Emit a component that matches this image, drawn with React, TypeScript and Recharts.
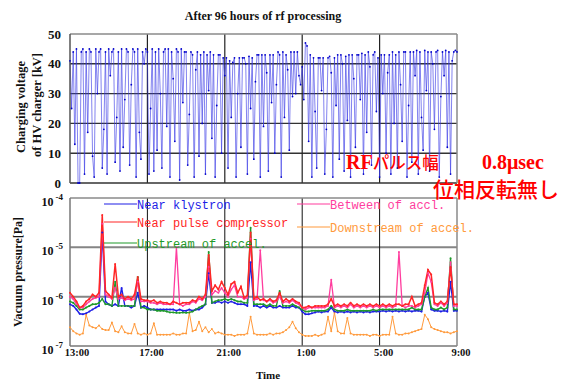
import { Line, LineChart, ReferenceLine, XAxis, YAxis } from 'recharts';

// hours after 13:00
const timeTicks = [0, 4, 8, 12, 16, 20];
const timeLabels = ['13:00', '17:00', '21:00', '1:00', '5:00', '9:00'];
const voltageTicks = [0, 10, 20, 30, 40, 50];
const pressureTicks = [1e-7, 1e-6, 1e-5, 1e-4];

// charging voltage [kV], one value every 5 minutes, one row per hour
const voltageRows = [
  [41, 25, 44, 13, 45, 0, 0, 44, 45, 3, 44, 17],
  [45, 44, 9, 2, 45, 30, 44, 45, 5, 18, 44, 3],
  [45, 36, 44, 45, 7, 22, 44, 4, 45, 12, 28, 45],
  [44, 6, 33, 45, 44, 2, 45, 17, 8, 44, 40, 45],
  [44, 3, 25, 45, 4, 44, 11, 45, 30, 5, 44, 45],
  [19, 45, 2, 44, 35, 14, 45, 44, 1, 45, 27, 44],
  [44, 6, 23, 44, 43, 2, 38, 44, 9, 43, 20, 44],
  [3, 43, 31, 44, 15, 43, 2, 26, 43, 43, 10, 42],
  [36, 42, 5, 41, 22, 40.5, 42, 2, 30, 42, 12, 42],
  [42, 40, 3, 42.5, 25, 42, 8, 34, 43, 43, 2, 43],
  [19, 43, 37, 4, 43, 27, 43, 10, 33, 44, 43, 2],
  [44, 22, 43, 38, 11, 44, 29, 44, 30, 44, 36, 33],
  [39, 28, 47, 46, 14, 43, 2, 42, 24, 5, 42, 42],
  [31, 42, 3, 18, 42, 42.5, 37, 2, 42, 26, 43, 8],
  [43, 40, 4, 42.5, 21, 43, 2, 43, 35, 12, 43, 43],
  [28, 43.5, 3, 43, 17, 44, 39, 6, 43, 44, 24, 42],
  [2, 43, 30, 43, 10, 37, 43, 3, 44, 20, 43, 5],
  [44, 33, 14, 44, 44, 2, 26, 44, 7, 44, 36, 44.5],
  [3, 44, 22, 11, 44.5, 31, 44, 4, 44, 40, 18, 44],
  [44.5, 2, 29, 44, 36, 44.5, 12, 44, 3, 41, 44, 44.5],
  [44],
];

// vacuum pressure in units of 1e-7 Pa, one value every 10 minutes, one row per hour
const klystronRows = [
  [7, 6.5, 5.5, 4.5, 4.4, 4.6], [5, 5.5, 6, 6.5, 200, 8], [7, 6.5, 7, 6.5, 15, 6.5],
  [6.5, 6, 6.5, 12, 6, 6.5], [6, 5.5, 5.5, 5.5, 5.5, 5.5], [5.5, 5.5, 5.5, 5.2, 5.5, 5.2],
  [5.2, 5.5, 5.2, 5.5, 5.5, 6], [7, 30, 7.5, 7.5, 8, 7.5], [8, 7.5, 8, 7.5, 7, 7],
  [7, 6.5, 50, 6.5, 6.5, 6], [6.5, 6, 6.5, 6, 6, 6.5], [6, 6, 6, 6.5, 6, 6],
  [5, 4.4, 4.4, 4.6, 4.8, 5], [4.8, 5, 5, 6, 5, 4.8], [5, 4.8, 5, 4.8, 5, 4.8],
  [5, 4.8, 5, 4.8, 5, 5], [5, 5.2, 5, 5.2, 5, 5.2], [5, 5.2, 5, 5.2, 5, 5.2],
  [5.2, 5, 10, 12, 5.5, 5.2], [5.2, 5, 5.2, 5, 20, 5.2], [5.2],
];
const compressorRows = [
  [12, 10, 8, 6, 6.5, 8], [9, 11, 10, 12, 450, 13], [11, 9.5, 46, 10, 11, 9],
  [10, 9, 11, 25, 9, 8.5], [8.5, 8, 8.5, 7.5, 8, 7.5], [7.5, 7, 8, 7.5, 7, 7.5],
  [7.5, 7.5, 8.5, 8, 10, 9], [11, 70, 13, 17, 14, 20], [15, 11, 18, 20, 12, 16],
  [9.5, 10.5, 200, 9, 10, 8.5], [9, 8, 9, 8, 8.5, 12], [8, 9, 8, 9, 8, 7.5],
  [6, 6, 6.5, 6, 6.5, 6.5], [6.5, 6.5, 7, 9, 6.5, 7], [6.5, 7, 6.5, 7.5, 6.5, 7],
  [6.5, 7, 6.5, 7, 6.5, 7], [6.5, 7, 6.5, 7, 6.5, 7], [7, 6.5, 7, 7, 10, 6.5],
  [7, 7.5, 17, 35, 28, 7.5], [7, 8, 7, 8, 40, 7], [7],
];
const upstreamRows = [
  [8, 7.5, 6.5, 5.5, 5.5, 6], [6.5, 7, 7, 7.5, 9, 7], [7, 6.5, 20, 6.5, 6.5, 6.5],
  [6.5, 6.5, 6.5, 25, 6, 6], [5.5, 5.5, 5.5, 5.2, 5.2, 5.2], [5, 4.8, 4.8, 4.7, 4.7, 4.8],
  [4.7, 4.8, 5, 5.5, 6, 6.5], [7, 80, 7.5, 8, 8.5, 8.5], [9, 8.5, 9, 8.5, 8, 8],
  [7.5, 7.5, 250, 7, 7, 7], [7, 6.5, 7, 6.5, 6.5, 13], [6.5, 6.5, 6.5, 7, 6.5, 6],
  [5.5, 5, 5, 5.2, 5.2, 5.2], [5.2, 5.2, 5.5, 6.5, 5.5, 5.2], [5.2, 5.2, 5.5, 5.2, 5.2, 5.2],
  [5.2, 5.2, 5.2, 5.2, 5.5, 5.2], [5.5, 5.5, 5.5, 5.5, 5.5, 5.5], [5.5, 5.5, 5.5, 5.5, 6, 5.5],
  [5.5, 5.5, 10, 15, 6, 5.5], [5.5, 6, 5.5, 6, 60, 5.5], [5.5],
];
const betweenRows = [
  [10, 9, 7, 6, 6, 7], [8, 9, 9.5, 10, 300, 11], [10, 9, 15, 9, 9.5, 8.5],
  [9, 8.5, 9, 20, 8, 8], [8, 7.5, 7.5, 7, 7.5, 7], [7, 7, 7, 100, 7, 6.5],
  [7, 7, 8, 7.5, 9, 8.5], [10, 40, 11, 13, 12, 15], [12, 10, 14, 17, 10, 10],
  [9, 9.5, 150, 8.5, 9, 87], [8.5, 8, 8.5, 7.5, 8, 10], [7.5, 8, 7.5, 8.5, 7.5, 7],
  [6, 5.5, 6, 6, 6, 6], [6, 6, 6.5, 22, 6, 6.5], [6, 6.5, 6, 7, 6, 6.5],
  [6, 6.5, 6, 6.5, 6, 6.5], [6, 6.5, 6, 6.5, 6, 6.5], [80, 6.5, 6, 6.5, 6.5, 6],
  [6.5, 7, 12, 30, 20, 7], [6.5, 7.5, 6.5, 7.5, 50, 6.5], [6.5],
];
const downstreamRows = [
  [2.4, 2.0, 1.8, 1.7, 1.8, 4.3], [2.6, 2.4, 2.3, 2.6, 2.2, 2.1], [2.1, 3.0, 2.0, 1.9, 2.5, 1.9],
  [1.8, 1.8, 2.8, 1.8, 1.7, 1.8], [1.7, 1.8, 2.9, 1.7, 1.7, 1.7], [1.7, 1.7, 1.8, 1.7, 1.7, 1.8],
  [1.8, 4.7, 2.0, 2.1, 3.1, 2.0], [2.4, 1.9, 2.2, 1.8, 1.9, 1.8], [1.7, 1.7, 1.7, 1.6, 1.7, 1.7],
  [1.7, 1.8, 3.9, 1.8, 1.7, 1.7], [1.7, 1.7, 1.8, 1.7, 1.8, 1.8], [1.9, 2.1, 2.4, 3.1, 2.3, 1.9],
  [1.7, 1.6, 1.6, 1.6, 1.7, 1.6], [1.7, 1.8, 3.9, 2.0, 4.7, 2.0], [1.8, 1.8, 3.7, 1.8, 1.7, 1.7],
  [1.7, 1.7, 1.7, 1.6, 1.7, 1.7], [1.6, 1.7, 1.7, 1.7, 3.9, 1.8], [1.7, 1.7, 1.8, 1.8, 1.9, 2.0],
  [2.1, 2.2, 4.3, 3.5, 2.4, 2.2], [2.1, 2.0, 1.9, 1.9, 1.8, 1.9], [2.0],
];

const series = [
  { key: 'downstream', name: 'Downstream of accel.', color: '#ff9a3c', rows: downstreamRows, width: 1 },
  { key: 'klystron', name: 'Near klystron', color: '#1e1ee6', rows: klystronRows, width: 1.4 },
  { key: 'upstream', name: 'Upstream of accel.', color: '#1f9a2a', rows: upstreamRows, width: 1.4 },
  { key: 'between', name: 'Between of accl.', color: '#ff3d9e', rows: betweenRows, width: 1.3 },
  { key: 'compressor', name: 'Near pulse compressor', color: '#ff2626', rows: compressorRows, width: 1.5 },
];

const legendItems = [
  { key: 'klystron', x: 104, y: 204 },
  { key: 'compressor', x: 104, y: 222 },
  { key: 'upstream', x: 104, y: 243 },
  { key: 'between', x: 297, y: 204 },
  { key: 'downstream', x: 297, y: 227 },
];

const voltageData = voltageRows.flat().map((v, i) => ({ t: (i * 5) / 60, v }));
const pressureData = klystronRows.flat().map((_, i) => {
  const row: Record<string, number> = { t: (i * 10) / 60 };
  series.forEach((s) => {
    row[s.key] = s.rows.flat()[i] * 1e-7;
  });
  return row;
});

const serif = '"Liberation Serif", "Times New Roman", serif';
const jp = '"Noto Sans CJK JP", sans-serif';
const mono = '"Liberation Mono", monospace';

function VoltTick({ x, y, payload }: any) {
  return (
    <text x={x} y={y} dy={4.5} textAnchor="end" fontFamily={serif} fontWeight="bold" fontSize={13} fill="#111">
      {payload.value}
    </text>
  );
}

function PowTick({ x, y, payload }: any) {
  const exp = Math.round(Math.log10(payload.value));
  return (
    <text x={x} y={y} dy={8} textAnchor="end" fontFamily={serif} fontWeight="bold" fontSize={12} fill="#111">
      10
      <tspan dx={2} dy={-6} fontSize={9}>{exp}</tspan>
    </text>
  );
}

function TimeTick({ x, y, payload, index }: any) {
  return (
    <text x={x + (index === 0 ? 7 : 4)} y={y} dy="0.71em" textAnchor="middle" fontFamily={serif} fontWeight="bold" fontSize={10.5} fill="#111">
      {timeLabels[timeTicks.indexOf(payload.value)]}
    </text>
  );
}

export default function App() {
  return (
    <div style={{ position: 'absolute', left: 0, top: 0, width: 568, height: 380, background: '#fff', overflow: 'hidden' }}>
      <div style={{ position: 'absolute', left: 0, top: 0 }}>
        <LineChart width={568} height={200} data={voltageData} margin={{ top: 34, right: 111, bottom: 17, left: 40 }}>
          <XAxis type="number" dataKey="t" domain={[0, 20]} ticks={timeTicks} hide />
          <YAxis
            type="number"
            domain={[0, 50]}
            ticks={voltageTicks}
            width={30}
            tickLine={false}
            axisLine={{ stroke: '#555', strokeWidth: 1.5 }}
            tickSize={6}
            tickMargin={3}
            tick={<VoltTick />}
          />
          {[10, 20, 30, 40].map((v) => (
            <ReferenceLine key={`h${v}`} y={v} stroke="#333" strokeWidth={1.4} />
          ))}
          {[4, 8, 12, 16].map((t) => (
            <ReferenceLine key={`v${t}`} x={t} stroke="#222" strokeWidth={1.2} />
          ))}
          <ReferenceLine y={50} stroke="#8a8a8a" strokeWidth={1.5} />
          <ReferenceLine y={0} stroke="#333" strokeWidth={1.5} />
          <ReferenceLine x={20} stroke="#8a8a8a" strokeWidth={1.5} />
          <Line
            type="linear"
            dataKey="v"
            stroke="#3a3ae6"
            strokeOpacity={0.7}
            strokeWidth={0.9}
            dot={{ r: 0.9, fill: '#0000c8', stroke: 'none' }}
            isAnimationActive={false}
          />
        </LineChart>
      </div>

      <div style={{ position: 'absolute', left: 0, top: 180 }}>
        <LineChart width={568} height={200} data={pressureData} margin={{ top: 18, right: 111, bottom: 4, left: 40 }}>
          <XAxis
            type="number"
            dataKey="t"
            domain={[0, 20]}
            ticks={timeTicks}
            height={30}
            tickLine={false}
            axisLine={false}
            tickSize={2}
            tickMargin={1}
            tick={<TimeTick />}
          />
          <YAxis
            type="number"
            scale="log"
            domain={[1e-7, 1e-4]}
            allowDataOverflow
            ticks={pressureTicks}
            width={30}
            tickLine={false}
            axisLine={false}
            tickSize={6}
            tickMargin={1}
            tick={<PowTick />}
          />
          {[1e-6, 1e-5].map((v) => (
            <ReferenceLine key={`h${v}`} y={v} stroke="#858585" strokeWidth={2} />
          ))}
          {[4, 8, 12, 16].map((t) => (
            <ReferenceLine key={`v${t}`} x={t} stroke="#111" strokeWidth={1} />
          ))}
          <ReferenceLine y={1e-4} stroke="#8a8a8a" strokeWidth={1.5} />
          <ReferenceLine y={1e-7} stroke="#777" strokeWidth={1.5} />
          <ReferenceLine x={0} stroke="#777" strokeWidth={1.5} />
          <ReferenceLine x={20} stroke="#8a8a8a" strokeWidth={1.5} />
          {series.map((s) => (
            <Line
              key={s.key}
              type="linear"
              dataKey={s.key}
              name={s.name}
              stroke={s.color}
              strokeWidth={s.width}
              dot={{ r: 1, fill: s.color, stroke: 'none' }}
              isAnimationActive={false}
            />
          ))}
        </LineChart>
      </div>

      <svg width={568} height={380} style={{ position: 'absolute', left: 0, top: 0, pointerEvents: 'none' }}>
        <text x={263} y={20} textAnchor="middle" fontFamily={serif} fontWeight="bold" fontSize={12} fill="#111">
          After 96 hours of rf processing
        </text>
        <text transform="rotate(-90 21 107)" x={21} y={107} textAnchor="middle" dominantBaseline="central" fontFamily={serif} fontWeight="bold" fontSize={12.5} fill="#111">
          Charging voltage
        </text>
        <text transform="rotate(-90 37 105)" x={37} y={105} textAnchor="middle" dominantBaseline="central" fontFamily={serif} fontWeight="bold" fontSize={12.5} fill="#111">
          of HV charger [kV]
        </text>
        <text transform="rotate(-90 18 272)" x={18} y={272} textAnchor="middle" dominantBaseline="central" fontFamily={serif} fontWeight="bold" fontSize={12} fill="#111">
          Vacuum pressure[Pa]
        </text>
        <text x={268} y={379} textAnchor="middle" fontFamily={serif} fontWeight="bold" fontSize={11} fill="#111">
          Time
        </text>

        {legendItems.map((item) => {
          const s = series.find((x) => x.key === item.key)!;
          return (
            <g key={item.key}>
              <line x1={item.x} x2={item.x + 33} y1={item.y} y2={item.y} stroke={s.color} strokeWidth={1.2} />
              <text x={item.x + 33} y={item.y + 4.5} fontFamily={mono} fontSize={12} fill={s.color}>
                {s.name}
              </text>
            </g>
          );
        })}

        <text x={346} y={169} fill="#ff0000">
          <tspan fontFamily={serif} fontWeight="bold" fontSize={20}>RF</tspan>
          <tspan fontFamily={jp} fontWeight={500} fontSize={16.5}>パルス幅</tspan>
          <tspan x={482} fontFamily={serif} fontWeight="bold" fontSize={20}>0.8μsec</tspan>
        </text>
        <text x={433} y={197} fill="#ff0000" fontFamily={jp} fontWeight={500} fontSize={21}>
          位相反転無し
        </text>
      </svg>
    </div>
  );
}
